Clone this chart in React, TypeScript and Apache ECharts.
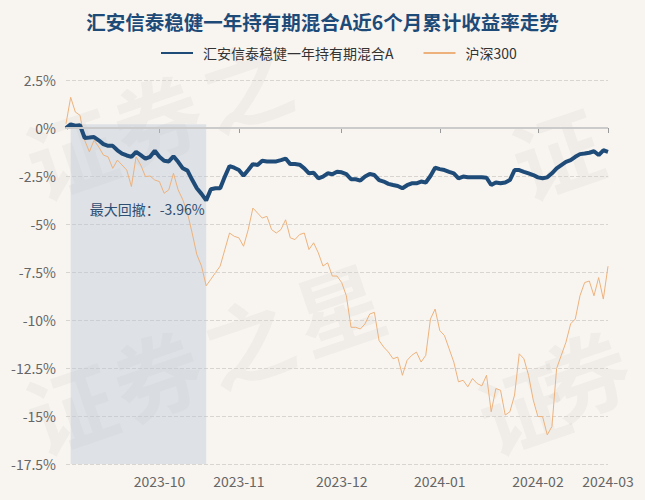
import React, { useEffect, useRef } from 'react';
import * as echarts from 'echarts';

const FONT = '"Noto Sans CJK SC", "Noto Sans", sans-serif';

const titleText = '汇安信泰稳健一年持有期混合A近6个月累计收益率走势';
const fundName = '汇安信泰稳健一年持有期混合A';
const indexName = '沪深300';
const maxDrawdownText = '最大回撤：-3.96%';
const peakIndex = 1;
const troughIndex = 30;

const dates = [
  '2023-09-01', '2023-09-04', '2023-09-05', '2023-09-06', '2023-09-07', '2023-09-08',
  '2023-09-11', '2023-09-12', '2023-09-13', '2023-09-14', '2023-09-15',
  '2023-09-18', '2023-09-19', '2023-09-20', '2023-09-21', '2023-09-22',
  '2023-09-25', '2023-09-26', '2023-09-27', '2023-09-28',
  '2023-10-09', '2023-10-10', '2023-10-11', '2023-10-12', '2023-10-13',
  '2023-10-16', '2023-10-17', '2023-10-18', '2023-10-19', '2023-10-20',
  '2023-10-23', '2023-10-24', '2023-10-25', '2023-10-26', '2023-10-27',
  '2023-10-30', '2023-10-31',
  '2023-11-01', '2023-11-02', '2023-11-03', '2023-11-06', '2023-11-07', '2023-11-08',
  '2023-11-09', '2023-11-10', '2023-11-13', '2023-11-14', '2023-11-15', '2023-11-16',
  '2023-11-17', '2023-11-20', '2023-11-21', '2023-11-22', '2023-11-23', '2023-11-24',
  '2023-11-27', '2023-11-28', '2023-11-29', '2023-11-30',
  '2023-12-01', '2023-12-04', '2023-12-05', '2023-12-06', '2023-12-07', '2023-12-08',
  '2023-12-11', '2023-12-12', '2023-12-13', '2023-12-14', '2023-12-15',
  '2023-12-18', '2023-12-19', '2023-12-20', '2023-12-21', '2023-12-22',
  '2023-12-25', '2023-12-26', '2023-12-27', '2023-12-28', '2023-12-29',
  '2024-01-02', '2024-01-03', '2024-01-04', '2024-01-05',
  '2024-01-08', '2024-01-09', '2024-01-10', '2024-01-11', '2024-01-12',
  '2024-01-15', '2024-01-16', '2024-01-17', '2024-01-18', '2024-01-19',
  '2024-01-22', '2024-01-23', '2024-01-24', '2024-01-25', '2024-01-26',
  '2024-01-29', '2024-01-30',
  '2024-02-01', '2024-02-02', '2024-02-05', '2024-02-06', '2024-02-07', '2024-02-08',
  '2024-02-19', '2024-02-20', '2024-02-21', '2024-02-22', '2024-02-23',
  '2024-02-26', '2024-02-27', '2024-02-28', '2024-02-29',
  '2024-03-01',
];

const fundReturns = [
  0, 0.19, 0.12, 0.14, -0.52, -0.5, -0.47, -0.64, -0.84, -0.93,
  -0.93, -1.16, -1.33, -1.43, -1.5, -1.24, -1.41, -1.6, -1.5, -1.19,
  -1.5, -1.71, -1.74, -1.47, -1.76, -2.1, -2.22, -2.7, -3.14, -3.43,
  -3.77, -3.19, -3.14, -3.14, -2.53, -1.98, -2.07, -2.19, -2.48, -2.19,
  -1.88, -1.93, -1.71, -1.74, -1.74, -1.74, -1.67, -1.59, -1.88, -1.88,
  -1.91, -2.1, -2.36, -2.33, -2.62, -2.53, -2.36, -2.41, -2.28, -2.31,
  -2.4, -2.67, -2.67, -2.74, -2.53, -2.4, -2.45, -2.71, -2.79, -2.91,
  -2.97, -3.02, -3.14, -2.98, -2.88, -2.88, -2.79, -2.84, -2.5, -2.07,
  -2.14, -2.19, -2.28, -2.36, -2.62, -2.53, -2.57, -2.57, -2.57, -2.57,
  -2.59, -2.97, -2.84, -2.88, -2.84, -2.71, -2.19, -2.19, -2.28, -2.36,
  -2.45, -2.57, -2.62, -2.57, -2.36, -2.1, -1.93, -1.76, -1.67, -1.5,
  -1.36, -1.33, -1.29, -1.21, -1.41, -1.16, -1.24,
];

const hs300Returns = [
  0.22, 1.6, 0.83, 0.66, -0.64, -1.24, -0.64, -0.98, -1.41, -1.5,
  -2.1, -1.67, -1.93, -2.19, -3.05, -1.5, -1.93, -2.53, -2.5, -2.71,
  -2.79, -3.4, -3.22, -2.36, -3.22, -3.74, -4.43, -5.47, -6.59, -7.19,
  -8.22, -7.88, -7.53, -7.19, -6.33, -5.47, -5.64, -5.72, -6.16, -5.29,
  -4.17, -4.43, -4.69, -4.6, -5.29, -5.47, -5.29, -4.78, -5.72, -5.81,
  -5.55, -5.47, -6.33, -5.98, -6.5, -7.19, -7.02, -7.71, -7.71, -8.05,
  -8.74, -10.38, -10.38, -10.47, -10.2, -9.69, -9.6, -11.07, -11.41, -11.67,
  -12.02, -11.93, -12.88, -12.1, -11.84, -11.67, -12.19, -11.84, -9.95, -9.43,
  -10.55, -10.81, -11.5, -12.19, -13.22, -13.14, -13.48, -13.05, -13.31, -13.43,
  -12.88, -14.78, -13.57, -13.66, -14.95, -14.78, -13.91, -11.76, -12.02, -12.88,
  -14.17, -15.03, -15.03, -15.98, -15.55, -12.53, -11.84, -11.16, -10.2, -9.95,
  -8.74, -8.05, -7.97, -8.74, -7.79, -8.91, -7.2,
];

const yMin = -17.5;
const yMax = 2.5;
const yStep = 2.5;

// watermark glyphs (decorative background text)
const watermarkChars = ['证', '券', '之', '星'];

const isMonthStart = (idx: number, val: string) =>
  idx > 0 && dates[idx - 1].slice(0, 7) !== String(val).slice(0, 7);

export default function App() {
  const ref = useRef<HTMLDivElement>(null);

  useEffect(() => {
    const chart = echarts.init(ref.current!, null, { renderer: 'svg' });
    const wm = (x: number, y: number, ch: number) => ({
      type: 'text',
      x,
      y,
      rotation: 0.33,
      silent: true,
      z: 0,
      style: {
        text: watermarkChars[ch],
        fontSize: 88,
        fontWeight: 'bold',
        fontFamily: FONT,
        fill: 'rgba(60,60,60,0.045)',
        textAlign: 'center',
        textVerticalAlign: 'middle',
      },
    });
    chart.setOption({
      animation: false,
      backgroundColor: '#f8f5f1',
      textStyle: { fontFamily: FONT },
      graphic: [
        wm(70, 150, 0),
        wm(156, 116, 1),
        wm(245, 82, 2),
        wm(556, 150, 0),
        wm(70, 405, 0),
        wm(156, 372, 1),
        wm(247, 338, 2),
        wm(338, 305, 3),
        wm(522, 405, 0),
        wm(584, 372, 1),
      ],
      title: {
        text: titleText,
        left: 'center',
        top: 7,
        textStyle: { color: '#1e4a78', fontSize: 19.5, fontWeight: 'bold', fontFamily: FONT },
      },
      legend: {
        top: 41,
        left: 155,
        itemWidth: 32,
        itemHeight: 14,
        itemGap: 29,
        itemStyle: { opacity: 0 },
        textStyle: { color: '#333', fontSize: 14, fontFamily: FONT, padding: [0, 0, 0, 5] },
        data: [fundName, indexName],
      },
      grid: { left: 66, right: 37, top: 80, bottom: 36, containLabel: false },
      xAxis: {
        type: 'category',
        data: dates,
        boundaryGap: false,
        axisLine: { lineStyle: { color: '#9a9a9a', width: 1 } },
        axisTick: { show: true, interval: isMonthStart, length: 5, lineStyle: { color: '#9a9a9a' } },
        axisLabel: {
          interval: isMonthStart,
          formatter: (v: string) => v.slice(0, 7),
          color: '#666',
          fontSize: 14,
          margin: 10,
          fontFamily: FONT,
        },
        splitLine: { show: false },
      },
      yAxis: {
        type: 'value',
        min: yMin,
        max: yMax,
        interval: yStep,
        axisLine: { show: false },
        axisTick: { show: false },
        axisLabel: {
          formatter: (v: number) => `${v}%`,
          color: '#666',
          fontSize: 14,
          margin: 10,
          fontFamily: FONT,
        },
        splitLine: { lineStyle: { type: 'dashed', color: '#d8d5d1', width: 1 } },
      },
      series: [
        {
          name: indexName,
          type: 'line',
          data: hs300Returns,
          symbol: 'none',
          z: 2,
          lineStyle: { color: '#edb27c', width: 1 },
          itemStyle: { color: '#edb27c' },
        },
        {
          name: fundName,
          type: 'line',
          data: fundReturns,
          symbol: 'none',
          z: 3,
          lineStyle: { color: '#1f4b78', width: 4 },
          itemStyle: { color: '#1f4b78' },
          markLine: {
            silent: true,
            symbol: 'none',
            label: { show: false },
            lineStyle: { color: '#cbcbcb', width: 2, type: 'solid' },
            data: [{ yAxis: 0 }],
          },
          markArea: {
            silent: true,
            itemStyle: { color: 'rgba(185,198,212,0.42)' },
            data: [
              [
                { xAxis: dates[peakIndex], yAxis: fundReturns[peakIndex] },
                { xAxis: dates[troughIndex], yAxis: yMin },
              ],
            ],
          },
          markPoint: {
            silent: true,
            symbol: 'circle',
            symbolSize: 1,
            itemStyle: { color: 'rgba(0,0,0,0)' },
            data: [{ coord: [dates[troughIndex], fundReturns[troughIndex]] }],
            label: {
              show: true,
              position: 'left',
              distance: 1,
              offset: [0, 9],
              formatter: maxDrawdownText,
              color: '#2f4f72',
              fontSize: 14,
              fontFamily: FONT,
            },
          },
        },
      ],
    });
    return () => chart.dispose();
  }, []);

  return (
    <div
      ref={ref}
      style={{ position: 'fixed', left: 0, top: 0, width: 645, height: 500 }}
    />
  );
}
